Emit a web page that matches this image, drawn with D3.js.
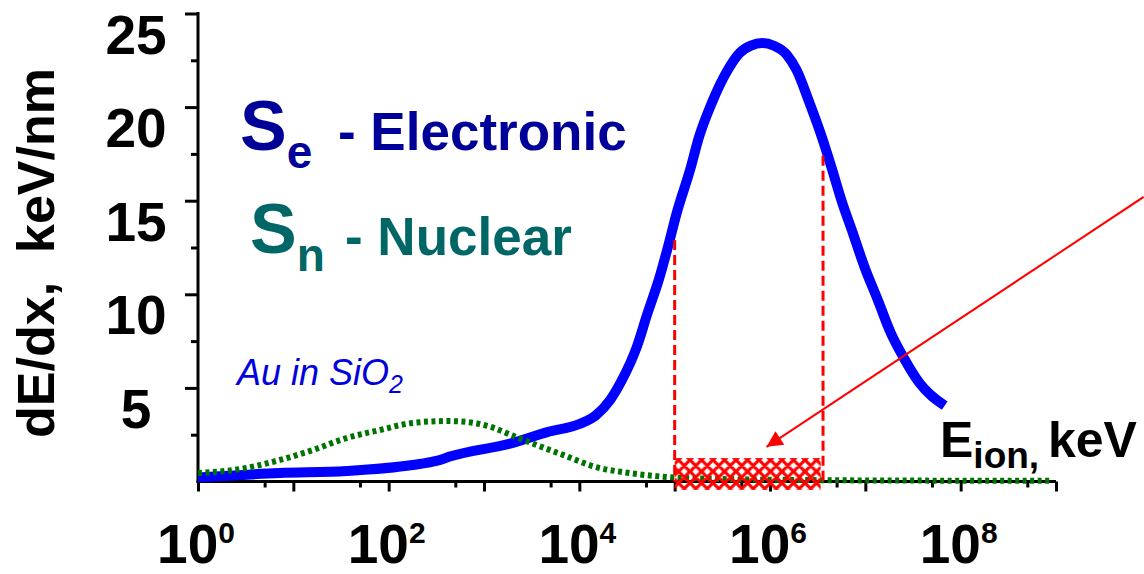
<!DOCTYPE html>
<html>
<head>
<meta charset="utf-8">
<script src="https://cdn.jsdelivr.net/npm/d3@7"></script>
<style>
  html, body { margin: 0; padding: 0; background: #fff; }
  svg { display: block; font-family: "Liberation Sans", Arial, sans-serif; }
</style>
</head>
<body>
<svg id="chart" width="1144" height="574"></svg>
<script>
// Ion energy (keV) and stopping power (keV/nm) for Au in SiO2
const electronicEnergy = [1, 7.2, 36, 178, 316, 457, 2000, 4600, 1.0e4, 1.5e4, 2.1e4, 2.8e4, 4.0e4, 5.2e4, 6.8e4, 8.5e4, 1.05e5, 1.45e5, 1.8e5, 2.45e5, 3.6e5, 4.8e5, 6.3e5, 8.3e5, 1.1e6, 1.5e6, 1.9e6, 2.6e6, 3.5e6, 4.5e6, 5.6e6, 7.4e6, 9.8e6, 1.35e7, 1.85e7, 2.5e7, 3.7e7, 6.8e7];
const electronicValue  = [0.22, 0.45, 0.56, 0.88, 1.10, 1.36, 2.06, 2.64, 3.07, 3.55, 4.35, 5.42, 7.18, 9.00, 10.76, 12.53, 14.34, 16.64, 18.40, 20.22, 21.98, 22.89, 23.28, 23.42, 23.28, 22.80, 21.98, 20.22, 18.40, 16.64, 15.04, 13.27, 11.46, 9.70, 7.93, 6.65, 5.26, 4.05];

const nuclearEnergy = [1, 3.2, 7.2, 16, 36, 81, 178, 407, 661, 1150, 2000, 3550, 6760, 1.5e4, 3.4e4, 8.3e4, 3e5, 2e6, 2.3e7, 9.1e8];
const nuclearValue  = [0.45, 0.72, 1.15, 1.68, 2.32, 2.75, 3.13, 3.23, 3.18, 2.93, 2.45, 1.95, 1.42, 0.77, 0.45, 0.24, 0.13, 0.08, 0.05, 0.04];

// Highlighted energy window
const windowEnergy = [1e5, 3.4e6];
const windowValue  = [-0.45, 1.25];
const guideEnergy  = [1e5, 3.6e6];
const guideTop     = [12.9, 17.4];
// Annotation arrow: start (off to the right) and tip, in data units
const arrowEnergy = [8.3e9, 9.2e5];
const arrowValue  = [15.2, 1.85];

const yMajorTicks = [5, 10, 15, 20, 25];
const yMinorTicks = [2.5, 7.5, 12.5, 17.5, 22.5];
const xMajorTicks = [1, 1e1, 1e2, 1e3, 1e4, 1e5, 1e6, 1e7, 1e8, 1e9];
const xMinorTicks = [5, 50, 5e2, 5e3, 5e4, 5e5, 5e6, 5e7, 5e8];
const xLabelExponents = [0, 2, 4, 6, 8];

const svg = d3.select("#chart");
const x = d3.scaleLog().domain([1, 1e9]).range([198, 1056]);
const y = d3.scaleLinear().domain([0, 25]).range([481.5, 13.5]);

const FONT = '"Liberation Sans", Arial, sans-serif';

// Hatch pattern for the energy window
const defs = svg.append("defs");
const P = 11.5;
const pat = defs.append("pattern")
  .attr("id", "hatch").attr("patternUnits", "userSpaceOnUse")
  .attr("width", P).attr("height", P);
pat.append("path")
  .attr("d", `M0,0L${P},${P}M${P},0L0,${P}M-2,${P-2}L2,${P+2}M${P-2},-2L${P+2},2M-2,2L2,-2M${P-2},${P+2}L${P+2},${P-2}`)
  .attr("stroke", "#ff0000").attr("stroke-width", 3.2);
defs.append("marker")
  .attr("id", "arrowhead").attr("viewBox", "0 0 10 10")
  .attr("refX", 10).attr("refY", 5)
  .attr("markerWidth", 9).attr("markerHeight", 8)
  .attr("markerUnits", "strokeWidth")
  .attr("orient", "auto")
  .append("path").attr("d", "M0,0L10,5L0,10Z").attr("fill", "#ff0000");

// Axes
const axisStyle = g => {
  g.select(".domain").remove();
  g.selectAll("line").attr("stroke", "#000").attr("stroke-width", 3);
  g.selectAll("text").remove();
};

svg.append("g").attr("transform", `translate(${x(1)},0)`)
  .call(d3.axisLeft(y).tickValues(yMajorTicks).tickSize(13).tickFormat(""))
  .call(axisStyle);
svg.append("g").attr("transform", `translate(${x(1)},0)`)
  .call(d3.axisLeft(y).tickValues(yMinorTicks).tickSize(7).tickFormat(""))
  .call(axisStyle);
svg.append("g").attr("transform", `translate(0,${y(0)})`)
  .call(d3.axisBottom(x).tickValues(xMajorTicks).tickSize(10).tickFormat(""))
  .call(axisStyle);
svg.append("g").attr("transform", `translate(0,${y(0)})`)
  .call(d3.axisBottom(x).tickValues(xMinorTicks).tickSize(6).tickFormat(""))
  .call(axisStyle);

svg.append("line")
  .attr("x1", x(1)).attr("x2", x(1))
  .attr("y1", y(25) - 1.5).attr("y2", y(0) + 1.5)
  .attr("stroke", "#000").attr("stroke-width", 3);
svg.append("line")
  .attr("x1", x(1) - 1.5).attr("x2", x(1e9))
  .attr("y1", y(0)).attr("y2", y(0))
  .attr("stroke", "#000").attr("stroke-width", 3);

// Y tick labels
svg.append("g").selectAll("text").data(yMajorTicks).join("text")
  .attr("x", 136).attr("y", d => y(d) + 40)
  .attr("text-anchor", "middle")
  .attr("font-family", FONT).attr("font-weight", "bold").attr("font-size", 55)
  .attr("fill", "#000")
  .text(d => d);

// X tick labels: powers of ten
const xl = svg.append("g").selectAll("text").data(xLabelExponents).join("text")
  .attr("x", d => x(Math.pow(10, d)) - 2)
  .attr("y", 563)
  .attr("text-anchor", "middle")
  .attr("font-family", FONT).attr("font-weight", "bold").attr("font-size", 55)
  .attr("fill", "#000");
xl.append("tspan").text("10");
xl.append("tspan").attr("font-size", 30).attr("dy", -20).text(d => d);

// Y axis title
svg.append("text")
  .attr("transform", "translate(54,253) rotate(-90)")
  .attr("text-anchor", "middle")
  .attr("font-family", FONT).attr("font-weight", "bold").attr("font-size", 52)
  .attr("fill", "#000")
  .attr("xml:space", "preserve")
  .text("dE/dx,  keV/nm");

// Curves
const lineGen = d3.line()
  .x(d => x(d[0])).y(d => y(d[1]))
  .curve(d3.curveMonotoneX);

svg.append("path")
  .datum(electronicEnergy.map((e, i) => [e, electronicValue[i]]))
  .attr("d", lineGen)
  .attr("fill", "none").attr("stroke", "#0000ff").attr("stroke-width", 10);

svg.append("path")
  .datum(nuclearEnergy.map((e, i) => [e, nuclearValue[i]]))
  .attr("d", lineGen)
  .attr("fill", "none").attr("stroke", "#007400").attr("stroke-width", 6)
  .attr("stroke-dasharray", "4,3.5");

// Guide lines down to the energy window
svg.append("g").selectAll("line").data(guideEnergy).join("line")
  .attr("x1", d => x(d)).attr("x2", d => x(d))
  .attr("y1", (d, i) => y(guideTop[i])).attr("y2", y(0))
  .attr("stroke", "#ff0000").attr("stroke-width", 3)
  .attr("stroke-dasharray", "10,5");

svg.append("rect")
  .attr("x", x(windowEnergy[0])).attr("y", y(windowValue[1]))
  .attr("width", x(windowEnergy[1]) - x(windowEnergy[0]))
  .attr("height", y(windowValue[0]) - y(windowValue[1]))
  .attr("fill", "url(#hatch)");

svg.append("line")
  .attr("x1", x(arrowEnergy[0])).attr("y1", y(arrowValue[0]))
  .attr("x2", x(arrowEnergy[1])).attr("y2", y(arrowValue[1]))
  .attr("stroke", "#ff0000").attr("stroke-width", 2)
  .attr("marker-end", "url(#arrowhead)");

// Legend
const se = svg.append("text").attr("x", 240).attr("y", 150)
  .attr("font-family", FONT).attr("font-weight", "bold").attr("fill", "#000099");
se.append("tspan").attr("font-size", 70).text("S");
se.append("tspan").attr("font-size", 46).attr("dy", 18).text("e");
se.append("tspan").attr("font-size", 53).attr("x", 338).attr("dy", -18).text("- Electronic");

const sn = svg.append("text").attr("x", 250).attr("y", 253)
  .attr("font-family", FONT).attr("font-weight", "bold").attr("fill", "#006666");
sn.append("tspan").attr("font-size", 70).text("S");
sn.append("tspan").attr("font-size", 46).attr("dy", 18).text("n");
sn.append("tspan").attr("font-size", 53).attr("x", 345).attr("dy", -16).text("- Nuclear");

const au = svg.append("text").attr("x", 237).attr("y", 385)
  .attr("font-family", FONT).attr("font-style", "italic").attr("font-size", 36)
  .attr("fill", "#0000dd");
au.append("tspan").text("Au in SiO");
au.append("tspan").attr("font-size", 25).attr("dy", 8).text("2");

const eion = svg.append("text").attr("x", 940).attr("y", 457)
  .attr("font-family", FONT).attr("font-weight", "bold").attr("fill", "#000");
eion.append("tspan").attr("font-size", 50).text("E");
eion.append("tspan").attr("font-size", 37).attr("dy", 11).text("ion,");
eion.append("tspan").attr("font-size", 50).attr("x", 1048).attr("dy", -11).text("keV");
</script>
</body>
</html>
